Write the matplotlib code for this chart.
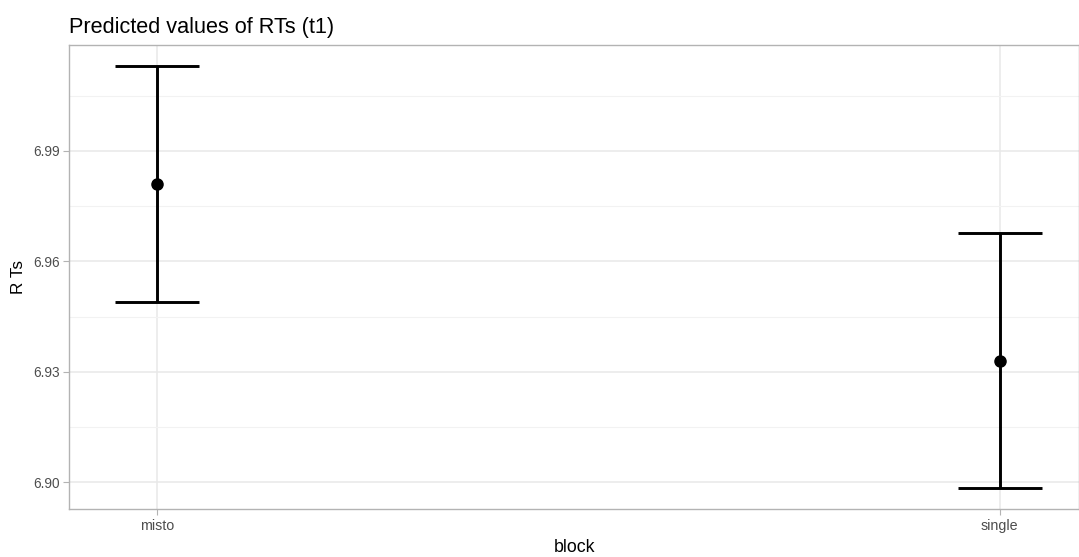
import matplotlib
matplotlib.use("Agg")
import matplotlib.pyplot as plt
from matplotlib.ticker import FixedLocator

plt.rcParams['font.family'] = ['Liberation Sans', 'DejaVu Sans']

# Predicted values with confidence intervals
blocks = ["misto", "single"]
predicted = [6.981, 6.9328]
ci_low = [6.949, 6.8985]
ci_high = [7.013, 6.9676]

y_ticks = [6.90, 6.93, 6.96, 6.99]
y_minor = [6.915, 6.945, 6.975, 7.005]

fig = plt.figure(figsize=(10.79, 5.57), dpi=100)
ax = fig.add_axes([0.0642, 0.0862, 0.9358, 0.833])

x = list(range(1, len(blocks) + 1))
err_lo = [p - l for p, l in zip(predicted, ci_low)]
err_hi = [h - p for p, h in zip(predicted, ci_high)]

ax.errorbar(x, predicted, yerr=[err_lo, err_hi], fmt='o', color='black',
            ecolor='black', elinewidth=2.1, capsize=30, capthick=2.1,
            markersize=8, zorder=3)

ax.set_xlim(0.896, 2.094)
ax.set_ylim(6.8927, 7.0188)
ax.set_xticks(x)
ax.set_xticklabels(blocks)
ax.set_yticks(y_ticks)
ax.set_yticklabels([f"{t:.2f}" for t in y_ticks])
ax.yaxis.set_minor_locator(FixedLocator(y_minor))

ax.grid(which='major', color='#E8E8E8', linewidth=1.1, zorder=0)
ax.grid(which='minor', axis='y', color='#F2F2F2', linewidth=0.8, zorder=0)
ax.set_axisbelow(True)

for side in ax.spines.values():
    side.set_color('#B3B3B3')
    side.set_linewidth(1.0)

ax.tick_params(axis='both', which='major', color='#B3B3B3', length=4,
               width=0.8, labelcolor='#4D4D4D', labelsize=9.8, pad=3)
ax.tick_params(axis='x', which='major', labelsize=10.3)
ax.tick_params(axis='y', which='minor', length=0)

ax.set_xlabel("block", fontsize=12.8, color='black', labelpad=4.5)
ax.set_ylabel("R Ts", fontsize=12.3, color='black', labelpad=5)
fig.text(0.064, 0.950, "Predicted values of RTs (t1)", fontsize=15.6,
         ha='left', va='center', color='black')

fig.savefig("out.png", dpi=100)
